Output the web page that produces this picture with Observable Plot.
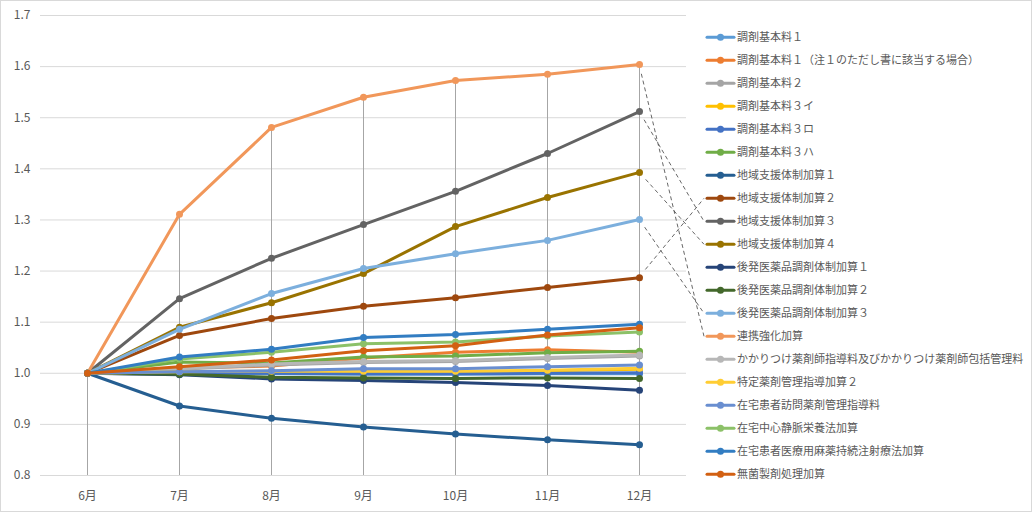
<!DOCTYPE html>
<html><head><meta charset="utf-8">
<script src="https://cdn.jsdelivr.net/npm/d3@7"></script>
<script src="https://cdn.jsdelivr.net/npm/@observablehq/plot@0.6"></script>
<style>
body{margin:0;background:#fff;}
#wrap{position:relative;width:1032px;height:512px;overflow:hidden;background:#fff;}
#wrap svg{position:absolute;left:0;top:0;}
#border{position:absolute;left:0;top:0;width:1032px;height:512px;box-sizing:border-box;border:1px solid #d9d9d9;pointer-events:none;}
</style></head><body><div id="wrap"><div id="border"></div></div>
<script>
const months = ["6月","7月","8月","9月","10月","11月","12月"];
const seriesNames = [
  "調剤基本料１",
  "調剤基本料１（注１のただし書に該当する場合）",
  "調剤基本料２",
  "調剤基本料３イ",
  "調剤基本料３ロ",
  "調剤基本料３ハ",
  "地域支援体制加算１",
  "地域支援体制加算２",
  "地域支援体制加算３",
  "地域支援体制加算４",
  "後発医薬品調剤体制加算１",
  "後発医薬品調剤体制加算２",
  "後発医薬品調剤体制加算３",
  "連携強化加算",
  "かかりつけ薬剤師指導料及びかかりつけ薬剤師包括管理料",
  "特定薬剤管理指導加算２",
  "在宅患者訪問薬剤管理指導料",
  "在宅中心静脈栄養法加算",
  "在宅患者医療用麻薬持続注射療法加算",
  "無菌製剤処理加算"
];
const seriesColors = [
  "#5B9BD5","#ED7D31","#A5A5A5","#FFC000","#4472C4","#70AD47",
  "#255E91","#9E480E","#636363","#997300","#264478","#43682B",
  "#7CAFDD","#F1975A","#B7B7B7","#FFCD33","#698ED0","#8CC168",
  "#327DC2","#D26012"
];
const v01 = [1, 0.999, 0.999, 0.998, 0.998, 0.999, 0.999];
const v02 = [1, 1.011, 1.014, 1.030, 1.041, 1.046, 1.041];
const v03 = [1, 1.008, 1.016, 1.021, 1.023, 1.029, 1.034];
const v04 = [1, 1.002, 1.003, 1.003, 1.003, 1.005, 1.008];
const v05 = [1, 1.000, 1.000, 0.999, 0.999, 1.000, 1.001];
const v06 = [1, 1.022, 1.020, 1.032, 1.034, 1.040, 1.043];
const v07 = [1, 0.936, 0.912, 0.895, 0.881, 0.870, 0.860];
const v08 = [1, 1.074, 1.107, 1.131, 1.148, 1.168, 1.187];
const v09 = [1, 1.146, 1.225, 1.291, 1.356, 1.430, 1.512];
const v10 = [1, 1.090, 1.138, 1.195, 1.287, 1.344, 1.393];
const v11 = [1, 0.997, 0.989, 0.986, 0.982, 0.976, 0.967];
const v12 = [1, 0.998, 0.992, 0.991, 0.990, 0.991, 0.990];
const v13 = [1, 1.086, 1.156, 1.205, 1.234, 1.260, 1.301];
const v14 = [1, 1.311, 1.481, 1.540, 1.573, 1.585, 1.604];
const v15 = [1, 1.009, 1.018, 1.023, 1.025, 1.031, 1.036];
const v16 = [1, 1.003, 1.004, 1.004, 1.004, 1.006, 1.010];
const v17 = [1, 1.003, 1.005, 1.009, 1.009, 1.013, 1.016];
const v18 = [1, 1.028, 1.041, 1.058, 1.061, 1.073, 1.081];
const v19 = [1, 1.032, 1.047, 1.070, 1.076, 1.086, 1.096];
const v20 = [1, 1.013, 1.026, 1.044, 1.054, 1.075, 1.089];
const seriesValues = [v01,v02,v03,v04,v05,v06,v07,v08,v09,v10,v11,v12,v13,v14,v15,v16,v17,v18,v19,v20];
const yTicks = [0.8,0.9,1.0,1.1,1.2,1.3,1.4,1.5,1.6,1.7];
const leaderSeries = ["地域支援体制加算２","地域支援体制加算３","地域支援体制加算４","後発医薬品調剤体制加算３","連携強化加算"];

const font = "'Noto Sans CJK JP','Noto Sans',sans-serif";
const textColor = "#595959";

const seriesRows = seriesNames.map((name, i) =>
  months.map((m, j) => ({name, month: m, value: seriesValues[i][j]})));
const maxByMonth = months.map((m, j) => ({month: m, max: d3.max(seriesValues, s => s[j])}));

// legend layout
const legendTop = 37.3, legendStep = 23;
function legendY(i) { return legendTop + legendStep * i; }

function legendMark(index, scales, values, dim) {
  const g = d3.create("svg:g");
  const plotRight = dim.width - dim.marginRight;
  const lx0 = plotRight + 21, lx1 = plotRight + 48;
  seriesNames.forEach((name, i) => {
    const y = legendY(i);
    g.append("line").attr("x1", lx0).attr("x2", lx1).attr("y1", y).attr("y2", y)
      .attr("stroke", seriesColors[i]).attr("stroke-width", 3).attr("stroke-linecap", "round");
    g.append("circle").attr("cx", (lx0 + lx1) / 2).attr("cy", y).attr("r", 3.5).attr("fill", seriesColors[i]);
    g.append("text").attr("x", lx1 + 3).attr("y", y).attr("dy", "0.36em")
      .attr("text-anchor", "start")
      .attr("fill", textColor).attr("font-size", 11).attr("font-family", font).text(name);
  });
  // leader lines
  const last = months[months.length - 1];
  leaderSeries.forEach(name => {
    const i = seriesNames.indexOf(name);
    const px = scales.x(last), py = scales.y(seriesValues[i][months.length - 1]);
    const tx = lx0 - 3, ty = legendY(i);
    const dx = tx - px, dy = ty - py, len = Math.hypot(dx, dy);
    const sx = px + dx / len * 10, sy = py + dy / len * 10;
    g.append("line").attr("x1", sx).attr("y1", sy).attr("x2", tx).attr("y2", ty)
      .attr("stroke", "#404040").attr("stroke-width", 0.8).attr("stroke-dasharray", "4,3");
  });
  return g.node();
}

const seriesMarks = seriesRows.flatMap((rows, i) => [
  Plot.line(rows, {x: "month", y: "value", stroke: seriesColors[i], strokeWidth: 3, strokeLinejoin: "round", curve: "linear"}),
  Plot.dot(rows, {x: "month", y: "value", fill: seriesColors[i], r: 3.5})
]);

const chart = Plot.plot({
  width: 1032,
  height: 512,
  marginLeft: 40,
  marginRight: 346,
  marginTop: 15,
  marginBottom: 37,
  style: {fontFamily: font, fontSize: "12px", color: textColor, background: "transparent"},
  x: {type: "point", domain: months, padding: 0.5, label: null},
  y: {domain: [0.8, 1.7], label: null},
  marks: [
    Plot.gridY(yTicks, {stroke: "#d9d9d9", strokeOpacity: 1}),
    Plot.ruleX(maxByMonth, {x: "month", y1: 0.8, y2: "max", stroke: "#a6a6a6", strokeWidth: 1}),
    Plot.axisY(yTicks, {tickSize: 0, tickPadding: 10, tickFormat: d => d.toFixed(1), fill: textColor, fontSize: 12}),
    Plot.axisX({tickSize: 0, tickPadding: 16, fill: textColor, fontSize: 12}),
    ...seriesMarks,
    legendMark
  ]
});
document.getElementById("wrap").insertBefore(chart, document.getElementById("border"));
</script>
</body></html>
